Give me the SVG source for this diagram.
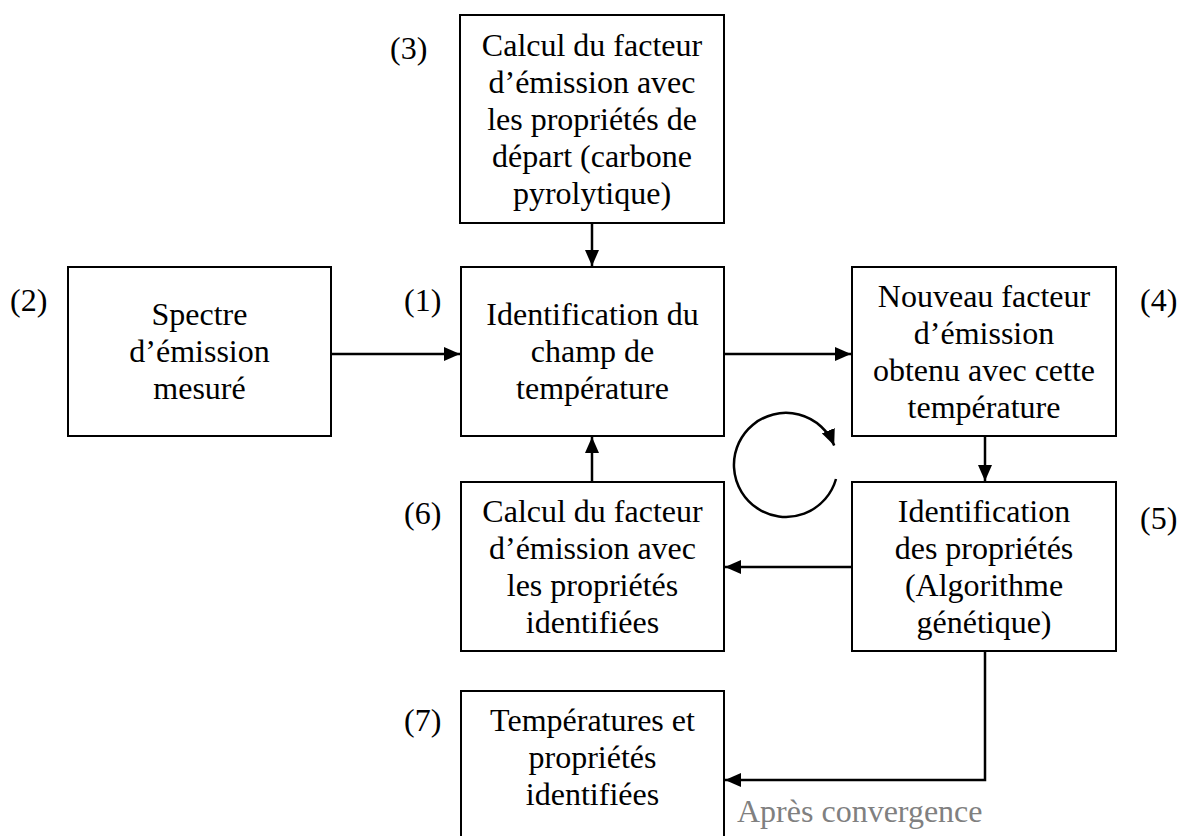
<svg xmlns="http://www.w3.org/2000/svg" width="1178" height="836" viewBox="0 0 1178 836">
<style>
.box{fill:#fff;stroke:#000;stroke-width:2}
.t,.lbl,.gray{font-family:'Liberation Serif','Tinos','Times New Roman','Times','Nimbus Roman','Noto Serif','DejaVu Serif',serif;font-size:32px}
.t{fill:#000;text-anchor:middle}
.lbl{fill:#000}
.gray{fill:#808080}
.con{fill:none;stroke:#000;stroke-width:2.5}
</style>
<defs>
<marker id="ah" markerUnits="userSpaceOnUse" markerWidth="18" markerHeight="14" refX="16" refY="7" orient="auto">
<path d="M0,0 L16,7 L0,14 Z" fill="#000"/>
</marker>
</defs>
<rect width="1178" height="836" fill="#fff"/>
<g id="connectors">
<line class="con" x1="592" y1="223" x2="592" y2="266" marker-end="url(#ah)"/>
<line class="con" x1="331" y1="354" x2="460" y2="354" marker-end="url(#ah)"/>
<line class="con" x1="724" y1="354" x2="851" y2="354" marker-end="url(#ah)"/>
<line class="con" x1="985" y1="436" x2="985" y2="481" marker-end="url(#ah)"/>
<line class="con" x1="852" y1="567" x2="725" y2="567" marker-end="url(#ah)"/>
<line class="con" x1="592" y1="482" x2="592" y2="437" marker-end="url(#ah)"/>
<polyline class="con" points="985,651 985,780 725,780" marker-end="url(#ah)"/>
<path class="con" d="M 836 479 A 52 52 0 1 1 834.2 445.5" marker-end="url(#ah)"/>
</g>
<g id="node3">
<rect class="box" x="460" y="15" width="264" height="208"/>
<text class="t" x="592" y="56">Calcul du facteur</text>
<text class="t" x="592" y="93">d’émission avec</text>
<text class="t" x="592" y="130">les propriétés de</text>
<text class="t" x="592" y="167">départ (carbone</text>
<text class="t" x="592" y="204">pyrolytique)</text>
<text class="lbl" x="390" y="59">(3)</text>
</g>
<g id="node2">
<rect class="box" x="68" y="267" width="263" height="169"/>
<text class="t" x="199.5" y="325">Spectre</text>
<text class="t" x="199.5" y="362">d’émission</text>
<text class="t" x="199.5" y="399">mesuré</text>
<text class="lbl" x="10" y="311">(2)</text>
</g>
<g id="node1">
<rect class="box" x="461" y="267" width="263" height="169"/>
<text class="t" x="592.5" y="325">Identification du</text>
<text class="t" x="592.5" y="362">champ de</text>
<text class="t" x="592.5" y="399">température</text>
<text class="lbl" x="404" y="311">(1)</text>
</g>
<g id="node4">
<rect class="box" x="852" y="267" width="264" height="169"/>
<text class="t" x="984" y="307">Nouveau facteur</text>
<text class="t" x="984" y="344">d’émission</text>
<text class="t" x="984" y="381">obtenu avec cette</text>
<text class="t" x="984" y="418">température</text>
<text class="lbl" x="1140" y="311">(4)</text>
</g>
<g id="node6">
<rect class="box" x="461" y="482" width="263" height="169"/>
<text class="t" x="592.5" y="522">Calcul du facteur</text>
<text class="t" x="592.5" y="559">d’émission avec</text>
<text class="t" x="592.5" y="596">les propriétés</text>
<text class="t" x="592.5" y="633">identifiées</text>
<text class="lbl" x="404" y="524">(6)</text>
</g>
<g id="node5">
<rect class="box" x="852" y="482" width="264" height="169"/>
<text class="t" x="984" y="522">Identification</text>
<text class="t" x="984" y="559">des propriétés</text>
<text class="t" x="984" y="596">(Algorithme</text>
<text class="t" x="984" y="633">génétique)</text>
<text class="lbl" x="1140" y="529">(5)</text>
</g>
<g id="node7">
<rect class="box" x="461" y="691" width="263" height="170"/>
<text class="t" x="592.5" y="731">Températures et</text>
<text class="t" x="592.5" y="768">propriétés</text>
<text class="t" x="592.5" y="805">identifiées</text>
<text class="lbl" x="404" y="731">(7)</text>
</g>
<text class="gray" x="737" y="822">Après convergence</text>
</svg>
